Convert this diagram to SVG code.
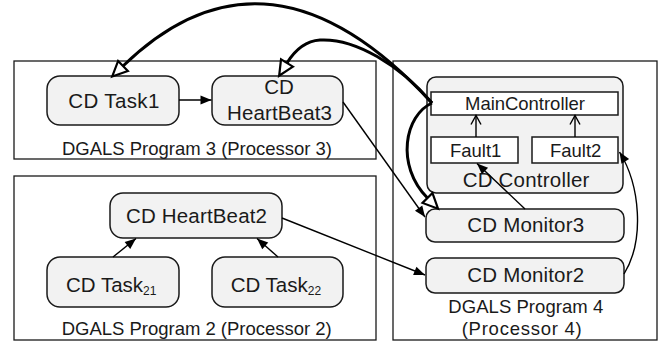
<svg xmlns="http://www.w3.org/2000/svg" width="670" height="342" viewBox="0 0 670 342">
<defs>
<style>
.prog{fill:#fff;stroke:#1a1a1a;stroke-width:1.3}
.node{fill:#f2f2f2;stroke:#1a1a1a;stroke-width:1.5}
.inner{fill:#fff;stroke:#1a1a1a;stroke-width:1.5}
text{font-family:"Liberation Sans",Arial,sans-serif;font-size:18.5px;fill:#1a1a1a;text-anchor:middle}
.big{font-size:20.5px}
.st{text-anchor:start}
.sub{font-size:12px}
.thin{fill:none;stroke:#000;stroke-width:1.4}
.thick{fill:none;stroke:#000;stroke-width:3}
</style>
<marker id="hollow" markerUnits="userSpaceOnUse" overflow="visible" refX="0" refY="0" orient="auto" markerWidth="20" markerHeight="20">
<path d="M0,-7 L15,0 L0,7 Z" fill="#fff" stroke="#000" stroke-width="2.2"/>
</marker>
<marker id="filled" markerUnits="userSpaceOnUse" overflow="visible" refX="0" refY="0" orient="auto" markerWidth="14" markerHeight="10">
<path d="M-11,-4.5 L0,0 L-11,4.5 Z" fill="#000"/>
</marker>
<marker id="open" markerUnits="userSpaceOnUse" overflow="visible" refX="0" refY="0" orient="auto" markerWidth="12" markerHeight="12">
<path d="M-9,-5 L0,0 L-9,5" fill="none" stroke="#000" stroke-width="1.4"/>
</marker>
</defs>
<rect width="670" height="342" fill="#fff"/>

<g id="program3">
<rect class="prog" x="14" y="61" width="362" height="98"/>
<text x="197" y="155" textLength="270">DGALS Program 3 (Processor 3)</text>
</g>
<g id="program2">
<rect class="prog" x="14" y="176" width="362" height="164"/>
<text x="196.7" y="335" textLength="270">DGALS Program 2 (Processor 2)</text>
</g>
<g id="program4">
<rect class="prog" x="393" y="61" width="264" height="279"/>
<text x="525.8" y="313" textLength="155">DGALS Program 4</text>
<text x="521.7" y="335" textLength="120">(Processor 4)</text>
</g>

<g id="task1">
<rect class="node" x="47" y="76" width="132" height="49" rx="13"/>
<text class="big" x="113.8" y="107.5" textLength="91">CD Task1</text>
</g>
<g id="heartbeat3">
<rect class="node" x="212" y="76" width="131" height="49" rx="13"/>
<text class="big" x="279" y="94">CD</text>
<text class="big" x="279.5" y="120" textLength="105">HeartBeat3</text>
</g>
<g id="heartbeat2">
<rect class="node" x="110" y="193" width="172" height="45" rx="13"/>
<text class="big" x="196.5" y="223" textLength="141">CD HeartBeat2</text>
</g>
<g id="task21">
<rect class="node" x="47" y="257" width="132" height="50" rx="13"/>
<text class="big st" x="66" y="291.5">CD Task<tspan class="sub" dy="3">21</tspan></text>
</g>
<g id="task22">
<rect class="node" x="212" y="257" width="131" height="50" rx="13"/>
<text class="big st" x="230.7" y="291.5">CD Task<tspan class="sub" dy="3">22</tspan></text>
</g>
<g id="controller">
<rect class="node" x="427" y="77" width="196" height="116" rx="9"/>
<text class="big" x="526" y="187" textLength="126.7">CD Controller</text>
</g>
<g id="maincontroller">
<rect class="inner" x="431" y="92" width="187" height="23"/>
<text x="525" y="110" textLength="120">MainController</text>
</g>
<g id="fault1">
<rect class="inner" x="431" y="137" width="87" height="26"/>
<text x="475.7" y="156.7">Fault1</text>
</g>
<g id="fault2">
<rect class="inner" x="532" y="137" width="86" height="26"/>
<text x="575.7" y="156.7">Fault2</text>
</g>
<g id="monitor3">
<rect class="node" x="426" y="209" width="198" height="33" rx="9"/>
<text class="big" x="525.7" y="232" textLength="116.7">CD Monitor3</text>
</g>
<g id="monitor2">
<rect class="node" x="426" y="258" width="198" height="35" rx="9"/>
<text class="big" x="525.7" y="282" textLength="116.7">CD Monitor2</text>
</g>

<g id="connectors">
<path class="thin" d="M179,100 L211.5,100" marker-end="url(#filled)"/>
<path class="thin" d="M113,257 L136,238.5" marker-end="url(#filled)"/>
<path class="thin" d="M278,257 L257,238.5" marker-end="url(#filled)"/>
<path class="thin" d="M476,137 L476,115.5" marker-end="url(#open)"/>
<path class="thin" d="M575,137 L575,115.5" marker-end="url(#open)"/>
<path class="thin" d="M343,102 L425,217" marker-end="url(#filled)"/>
<path class="thin" d="M525,209 L477,163.5" marker-end="url(#filled)"/>
<path class="thin" d="M282,218 L425,275" marker-end="url(#filled)"/>
<path class="thin" d="M624,274 C645,240 640,185 619.5,152" marker-end="url(#filled)"/>
<path class="thick" d="M432,103 Q268,-75 123,66" marker-end="url(#hollow)"/>
<path class="thick" d="M432,103 C400,65 355,38 320,40 C305,41 295,50 287,63" marker-end="url(#hollow)"/>
<path class="thick" d="M432,103 C405,115 395,165 427.5,198" marker-end="url(#hollow)"/>
</g>
</svg>
